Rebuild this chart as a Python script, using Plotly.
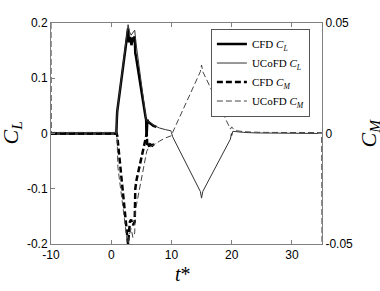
import plotly.graph_objects as go

# CFD lift coefficient (thick solid)
t_cfd_cl = [-10, 0.85, 0.95, 1.0, 2.8, 2.95, 3.15, 3.35, 3.6, 3.9, 4.0, 4.1, 5.7, 5.8, 5.85, 5.9, 6.0, 6.1, 6.3, 6.6, 7.0, 7.5]
cfd_cl = [0.0, 0.0, 0.03, 0.04, 0.19, 0.165, 0.175, 0.16, 0.172, 0.175, 0.145, 0.14, 0.03, 0.025, -0.005, 0.0, 0.025, 0.022, 0.02, 0.017, 0.014, 0.012]

# UCoFD lift coefficient (thin solid)
t_uc_cl = [-10, 0.85, 0.95, 1.0, 2.8, 3.0, 3.3, 3.6, 3.9, 4.1, 5.8, 6.0, 6.5, 7.0, 8.0, 9.0, 9.9, 10.0, 10.2, 14.8, 15.0, 15.2, 19.8, 19.95, 20.0, 20.2, 21.0, 22.0, 24.0, 27.0, 35.0]
uc_cl = [0.0, 0.0, 0.03, 0.04, 0.197, 0.185, 0.178, 0.182, 0.187, 0.165, 0.025, 0.022, 0.02, 0.015, 0.01, 0.007, 0.005, 0.002, -0.006, -0.105, -0.117, -0.105, -0.01, 0.0, -0.004, 0.004, 0.003, 0.002, 0.001, 0.0005, 0.0]

# CFD moment coefficient (thick dashed)
t_cfd_cm = [-10, 0.9, 1.0, 2.8, 3.1, 3.3, 3.6, 3.9, 4.0, 4.2, 5.9, 6.0, 6.2, 6.35, 6.5, 6.8, 7.2, 7.5]
cfd_cm = [0.0, 0.0, -0.001, -0.05, -0.04, -0.039, -0.0415, -0.04, -0.025, -0.021, 0.0, -0.006, -0.0045, -0.0065, -0.005, -0.0055, -0.0045, -0.004]

# UCoFD moment coefficient (thin dashed)
t_uc_cm = [-10, -9.95, 0.9, 1.0, 1.1, 2.8, 3.0, 3.3, 3.6, 3.9, 4.0, 5.9, 6.2, 7.0, 8.0, 9.0, 10.0, 10.2, 14.8, 15.0, 15.2, 19.8, 20.0, 20.3, 21.0, 22.0, 25.0, 34.95, 35.0]
uc_cm = [0.05, 0.0005, 0.0005, -0.004, -0.015, -0.052, -0.046, -0.043, -0.047, -0.045, -0.035, -0.008, -0.0065, -0.005, -0.0035, -0.002, -0.001, 0.0005, 0.028, 0.031, 0.028, 0.002, 0.003, 0.002, 0.0012, 0.0008, 0.0005, 0.0004, -0.05]

x_ticks = [-10, 0, 10, 20, 30]
x_ticktext = ["-10", "0", "10", "20", "30"]
cl_ticks = [-0.2, -0.1, 0, 0.1, 0.2]
cl_ticktext = ["-0.2", "-0.1", "0", "0.1", "0.2"]
cm_ticks = [-0.05, 0, 0.05]
cm_ticktext = ["-0.05", "0", "0.05"]

SERIF = "Liberation Serif, DejaVu Serif, serif"
SANS = "Liberation Sans, Arial, sans-serif"

fig = go.Figure()
fig.add_trace(go.Scatter(x=t_cfd_cl, y=cfd_cl, mode="lines", name="CFD <i>C</i><sub><i>L</i></sub>",
                         line=dict(color="black", width=2.5)))
fig.add_trace(go.Scatter(x=t_uc_cl, y=uc_cl, mode="lines", name="UCoFD <i>C</i><sub><i>L</i></sub>",
                         line=dict(color="#333333", width=1)))
fig.add_trace(go.Scatter(x=t_cfd_cm, y=cfd_cm, mode="lines", name="CFD <i>C</i><sub><i>M</i></sub>", yaxis="y2",
                         line=dict(color="black", width=2.5, dash="6px,3px")))
fig.add_trace(go.Scatter(x=t_uc_cm, y=uc_cm, mode="lines", name="UCoFD <i>C</i><sub><i>M</i></sub>", yaxis="y2",
                         line=dict(color="#444444", width=1, dash="6px,3px")))

axcol = "#808080"
fig.update_layout(
    width=380, height=291,
    margin=dict(l=51, r=58, t=23, b=47),
    plot_bgcolor="white", paper_bgcolor="white",
    showlegend=True,
    legend=dict(x=0.59, y=0.975, xanchor="left", yanchor="top",
                bordercolor="#555555", borderwidth=1, bgcolor="white",
                font=dict(family=SERIF, size=11, color="black"),
                tracegroupgap=0, itemwidth=30),
    xaxis=dict(range=[-10, 35], tickvals=x_ticks, ticktext=x_ticktext, automargin=False,
               ticks="inside", ticklen=4, tickcolor=axcol, showline=True, linecolor=axcol,
               mirror="ticks", showgrid=False, zeroline=False,
               tickfont=dict(family=SANS, size=12, color="black")),
    yaxis=dict(range=[-0.2, 0.2], tickvals=cl_ticks, ticktext=cl_ticktext, automargin=False,
               ticks="inside", ticklen=4, tickcolor=axcol, showline=True, linecolor=axcol,
               showgrid=False, zeroline=False,
               tickfont=dict(family=SANS, size=12, color="black")),
    yaxis2=dict(range=[-0.05, 0.05], tickvals=cm_ticks, ticktext=cm_ticktext, overlaying="y", side="right",
                automargin=False,
                ticks="inside", ticklen=4, tickcolor=axcol, showline=True, linecolor=axcol,
                showgrid=False, zeroline=False,
                tickfont=dict(family=SANS, size=12, color="black")),
    annotations=[
        dict(text="<i>C</i><sub><i>L</i></sub>", xref="paper", yref="paper", x=(11 - 51) / 271, y=0.5,
             xanchor="center", yanchor="middle", textangle=-90, showarrow=False,
             font=dict(family=SERIF, size=22, color="black")),
        dict(text="<i>C</i><sub><i>M</i></sub>", xref="paper", yref="paper", x=(369 - 51) / 271, y=0.5,
             xanchor="center", yanchor="middle", textangle=-90, showarrow=False,
             font=dict(family=SERIF, size=22, color="black")),
        dict(text="<i>t</i>*", xref="paper", yref="paper", x=(183 - 51) / 271, y=-(274 - 244) / 221,
             xanchor="center", yanchor="middle", showarrow=False,
             font=dict(family=SERIF, size=20, color="black")),
    ],
)

fig.write_html("out.html", config={"displayModeBar": False},
               post_script="document.body.style.margin='0';")
